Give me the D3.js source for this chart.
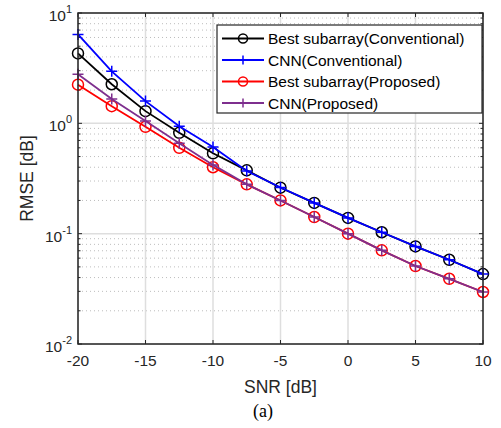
<!DOCTYPE html>
<html>
<head>
<meta charset="utf-8">
<script src="https://cdn.jsdelivr.net/npm/d3@7"></script>
<style>
  body { margin: 0; background: #fff; }
  text { font-family: "Liberation Sans", Arial, sans-serif; }
</style>
</head>
<body>
<script>
// chart values
var snr = [-20, -17.5, -15, -12.5, -10, -7.5, -5, -2.5, 0, 2.5, 5, 7.5, 10];
var bestConv = [4.3, 2.26, 1.29, 0.82, 0.535, 0.375, 0.261, 0.19, 0.139, 0.103, 0.0767, 0.058, 0.043];
var cnnConv = [6.4, 2.96, 1.59, 0.94, 0.61, 0.37, 0.262, 0.19, 0.139, 0.103, 0.0767, 0.058, 0.043];
var bestProp = [2.24, 1.43, 0.93, 0.60, 0.40, 0.28, 0.20, 0.1415, 0.100, 0.0706, 0.0509, 0.039, 0.0296];
var cnnProp = [2.78, 1.66, 1.05, 0.66, 0.42, 0.28, 0.20, 0.1415, 0.100, 0.0706, 0.0509, 0.039, 0.0296];
var xTicks = [-20, -15, -10, -5, 0, 5, 10];
var yExps = [-2, -1, 0, 1];

var series = [
  { name: "Best subarray(Conventional)", values: bestConv, color: "#000000", marker: "circle" },
  { name: "CNN(Conventional)", values: cnnConv, color: "#0000ff", marker: "plus" },
  { name: "Best subarray(Proposed)", values: bestProp, color: "#ff0000", marker: "circle" },
  { name: "CNN(Proposed)", values: cnnProp, color: "#7e2f8e", marker: "plus" }
];

var width = 501, height = 428;
var pL = 78, pR = 483, pT = 13, pB = 344;

var svg = d3.select("body").append("svg")
  .attr("width", width)
  .attr("height", height);

var x = d3.scaleLinear().domain([-20, 10]).range([pL, pR]);
var y = d3.scaleLog().domain([0.01, 10]).range([pB, pT]);

// minor grid (dotted)
var minor = [];
yExps.slice(0, 3).forEach(function (e) {
  for (var k = 2; k <= 9; k++) minor.push(k * Math.pow(10, e));
});
var grid = svg.append("g");
grid.selectAll("line.minor").data(minor).enter().append("line")
  .attr("x1", pL).attr("x2", pR)
  .attr("y1", d => y(d)).attr("y2", d => y(d))
  .attr("stroke", "#bdbdbd").attr("stroke-width", 1)
  .attr("stroke-dasharray", "1,3");
grid.selectAll("line.majy").data(yExps).enter().append("line")
  .attr("x1", pL).attr("x2", pR)
  .attr("y1", d => y(Math.pow(10, d))).attr("y2", d => y(Math.pow(10, d)))
  .attr("stroke", "#dedede").attr("stroke-width", 1.5);
grid.selectAll("line.majx").data(xTicks).enter().append("line")
  .attr("x1", d => x(d)).attr("x2", d => x(d))
  .attr("y1", pT).attr("y2", pB)
  .attr("stroke", "#dedede").attr("stroke-width", 1.5);

// ticks (inside, both sides)
var axc = "#262626";
var tk = svg.append("g").attr("stroke", axc).attr("stroke-width", 1);
xTicks.forEach(function (d) {
  tk.append("line").attr("x1", x(d)).attr("x2", x(d)).attr("y1", pB).attr("y2", pB - 4);
  tk.append("line").attr("x1", x(d)).attr("x2", x(d)).attr("y1", pT).attr("y2", pT + 4);
});
yExps.forEach(function (e) {
  var v = y(Math.pow(10, e));
  tk.append("line").attr("x1", pL).attr("x2", pL + 4).attr("y1", v).attr("y2", v);
  tk.append("line").attr("x1", pR).attr("x2", pR - 4).attr("y1", v).attr("y2", v);
});
minor.forEach(function (d) {
  tk.append("line").attr("x1", pL).attr("x2", pL + 2.5).attr("y1", y(d)).attr("y2", y(d));
  tk.append("line").attr("x1", pR).attr("x2", pR - 2.5).attr("y1", y(d)).attr("y2", y(d));
});

// lines and markers
var line = d3.line().x((d, i) => x(snr[i])).y(d => y(d));
series.forEach(function (s) {
  var g = svg.append("g");
  g.append("path").datum(s.values)
    .attr("d", line).attr("fill", "none")
    .attr("stroke", s.color).attr("stroke-width", 1.8);
  s.values.forEach(function (v, i) {
    drawMarker(g, x(snr[i]), y(v), s, 5.5);
  });
});

function drawMarker(g, cx, cy, s, r) {
  if (s.marker === "circle") {
    g.append("circle").attr("cx", cx).attr("cy", cy).attr("r", r)
      .attr("fill", "none").attr("stroke", s.color).attr("stroke-width", 1.5);
  } else {
    g.append("path").attr("d", "M" + (cx - r) + "," + cy + "H" + (cx + r) + "M" + cx + "," + (cy - r) + "V" + (cy + r))
      .attr("stroke", s.color).attr("stroke-width", 1.5);
  }
}

// axes box
svg.append("rect").attr("x", pL).attr("y", pT)
  .attr("width", pR - pL).attr("height", pB - pT)
  .attr("fill", "none").attr("stroke", axc).attr("stroke-width", 1.5);

// tick labels
svg.selectAll("text.xt").data(xTicks).enter().append("text")
  .attr("x", d => x(d)).attr("y", pB + 22)
  .attr("text-anchor", "middle").attr("font-size", 15.5).attr("fill", axc)
  .text(d => d);
yExps.forEach(function (e) {
  var t = svg.append("text").attr("x", pL - 6).attr("y", y(Math.pow(10, e)) + 8)
    .attr("text-anchor", "end").attr("font-size", 15.5).attr("fill", axc);
  t.append("tspan").text("10");
  t.append("tspan").attr("dy", -8).attr("font-size", 11).text(e);
});

// axis labels
svg.append("text").attr("x", (pL + pR) / 2).attr("y", 393)
  .attr("text-anchor", "middle").attr("font-size", 17.5).attr("fill", axc)
  .text("SNR [dB]");
svg.append("text").attr("transform", "translate(33," + (pT + pB) / 2 + ") rotate(-90)")
  .attr("text-anchor", "middle").attr("font-size", 17.5).attr("fill", axc)
  .text("RMSE [dB]");
svg.append("text").attr("x", 263).attr("y", 417)
  .attr("text-anchor", "middle").attr("font-size", 18).attr("fill", "#000")
  .style("font-family", "'Liberation Serif', 'Times New Roman', serif")
  .text("(a)");

// legend
var lg = svg.append("g");
lg.append("rect").attr("x", 217).attr("y", 25).attr("width", 265).attr("height", 88)
  .attr("fill", "#fff").attr("stroke", axc).attr("stroke-width", 1.2);
series.forEach(function (s, i) {
  var ly = 38.5 + i * 21.5;
  lg.append("line").attr("x1", 222).attr("x2", 264).attr("y1", ly).attr("y2", ly)
    .attr("stroke", s.color).attr("stroke-width", 1.8);
  drawMarker(lg, 243, ly, s, 4.5);
  lg.append("text").attr("x", 268).attr("y", ly + 5.5)
    .attr("font-size", 15.5).attr("fill", "#000").text(s.name);
});
</script>
</body>
</html>
